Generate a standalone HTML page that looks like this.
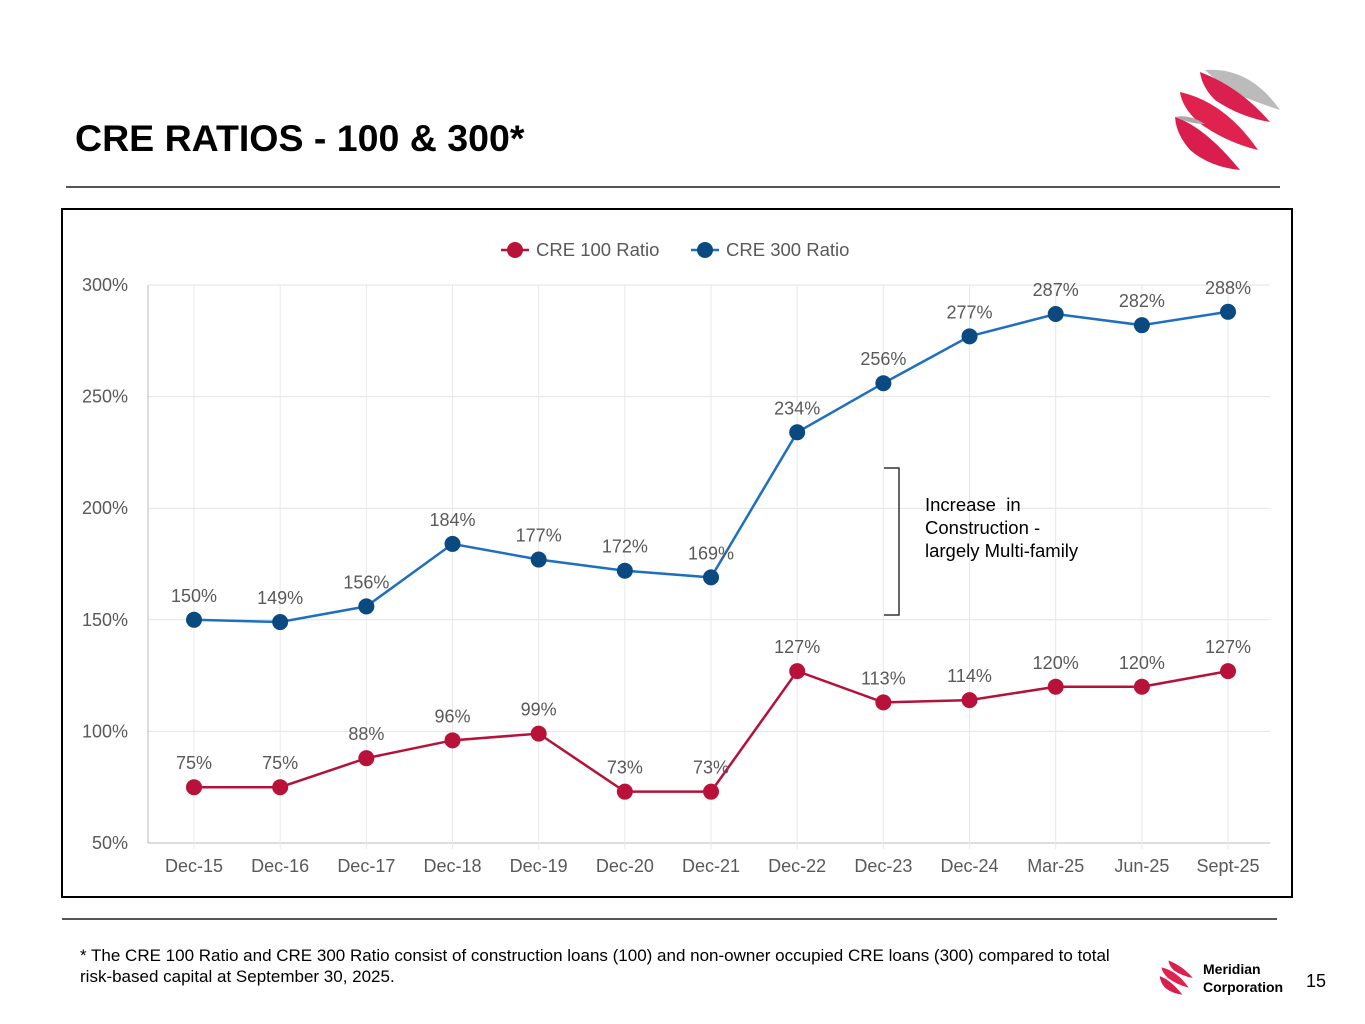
<!DOCTYPE html>
<html><head><meta charset="utf-8"><style>
body{margin:0;width:1365px;height:1024px;background:#fff;font-family:"Liberation Sans",Arial,sans-serif;position:relative;overflow:hidden}
.abs{position:absolute}
</style></head><body>
<div class="abs" style="left:75px;top:117px;font-size:37.5px;font-weight:bold;color:#000">CRE RATIOS - 100 &amp; 300*</div>
<svg class="abs" style="left:1170px;top:62px" width="115" height="115" viewBox="0 0 115 115">
<path d="M35 8 Q80 5 110 48 Q85 40 62 30 Q50 22 35 8Z" fill="#bbb"/>
<path d="M30 10 Q70 25 100 60 Q70 55 45 38 Q32 25 30 10Z" fill="#d9204f"/>
<path d="M10 30 Q55 40 88 88 Q55 80 28 60 Q12 45 10 30Z" fill="#e0224e"/>
<path d="M5 55 Q35 65 70 108 Q40 105 20 88 Q6 72 5 55Z" fill="#d91e4d"/>
<path d="M5 55 Q20 52 35 62 Q20 62 5 55Z" fill="#aaa"/>
</svg>
<div class="abs" style="left:66px;top:186px;width:1214px;height:2px;background:#555"></div>
<div class="abs" style="left:61px;top:208px;width:1228px;height:686px;border:2px solid #000"></div>
<svg class="abs" id="chart" style="left:0;top:0" width="1365" height="1024"></svg>
<div class="abs" style="left:925px;top:493px;font-size:18.5px;line-height:23px;color:#000">Increase&nbsp; in<br>Construction -<br>largely Multi-family</div>
<div class="abs" style="left:62px;top:918px;width:1215px;height:2px;background:#555"></div>
<div class="abs" style="left:80px;top:945px;font-size:17px;line-height:21px;color:#000">* The CRE 100 Ratio and CRE 300 Ratio consist of construction loans (100) and non-owner occupied CRE loans (300) compared to total<br>risk-based capital at September 30, 2025.</div>
<svg class="abs" style="left:1157px;top:957px" width="42" height="40" viewBox="0 0 115 115">
<path d="M30 10 Q70 25 100 60 Q70 55 45 38 Q32 25 30 10Z" fill="#d9204f"/>
<path d="M10 30 Q55 40 88 88 Q55 80 28 60 Q12 45 10 30Z" fill="#e0224e"/>
<path d="M5 55 Q35 65 70 108 Q40 105 20 88 Q6 72 5 55Z" fill="#d91e4d"/>
</svg>
<div class="abs" style="left:1203px;top:960px;font-size:14px;font-weight:bold;line-height:18px">Meridian<br>Corporation</div>
<div class="abs" style="left:1306px;top:971px;font-size:18px">15</div>
<script>
const categories=["Dec-15","Dec-16","Dec-17","Dec-18","Dec-19","Dec-20","Dec-21","Dec-22","Dec-23","Dec-24","Mar-25","Jun-25","Sept-25"];
const cre100=[75,75,88,96,99,73,73,127,113,114,120,120,127];
const cre300=[150,149,156,184,177,172,169,234,256,277,287,282,288];
const yTicks=[50,100,150,200,250,300];
const NS="http://www.w3.org/2000/svg";
const svg=document.getElementById('chart');
const x=i=>194+i*86.17;
const y=v=>843-(v-50)*(558/250);
function mk(t,a,p){const e=document.createElementNS(NS,t);for(const k in a)e.setAttribute(k,a[k]);(p||svg).appendChild(e);return e;}
yTicks.forEach(v=>{
 const g=mk('line',{x1:148,x2:1270,y1:y(v),y2:y(v),stroke:v===50?'#bbb':'#e3e3e3','stroke-width':1});
 
 
 const t=mk('text',{x:128,y:y(v)+6,'text-anchor':'end','font-size':18,fill:'#595959'});t.textContent=v+'%';
 
 
});
mk('line',{x1:148,x2:148,y1:285,y2:843,stroke:'#bbb'});
categories.forEach((c,i)=>{
 const g=mk('line',{x1:x(i),x2:x(i),y1:285,y2:849,stroke:'#e8e8e8'});
 
 
 const t=mk('text',{x:x(i),y:872,'text-anchor':'middle','font-size':18,fill:'#595959'});t.textContent=c;
 
 
});
function series(vals,lc,mc,name){
 const p=mk('polyline',{points:vals.map((v,i)=>x(i)+','+y(v)).join(' '),fill:'none',stroke:lc,'stroke-width':2.5});
 
 
 vals.forEach((v,i)=>{
  const c=mk('circle',{cx:x(i),cy:y(v),r:8,fill:mc});
  
  
  const t=mk('text',{x:x(i),y:y(v)-18,'text-anchor':'middle','font-size':18,fill:'#595959'});t.textContent=v+'%';
  
  
 });
}
series(cre300,'#1f6fc0','#0b4a80','cre300');
series(cre100,'#b5123a','#b8123a','cre100');
const b=mk('path',{d:'M884 468 H899 V615 H884',fill:'none',stroke:'#333','stroke-width':1.5});


[[501,'#b8123a','CRE 100 Ratio'],[691,'#0b4a80','CRE 300 Ratio']].forEach(([lx,c,l])=>{
 const g=mk('g',{});
 
 
 mk('line',{x1:lx,x2:lx+28,y1:250,y2:250,stroke:c==='#b8123a'?'#b5123a':'#1f6fc0','stroke-width':2.5},g);
 mk('circle',{cx:lx+14,cy:250,r:8,fill:c},g);
 const t=mk('text',{x:lx+35,y:256,'font-size':18.5,fill:'#595959'},g);t.textContent=l;
});
</script>
</body></html>
